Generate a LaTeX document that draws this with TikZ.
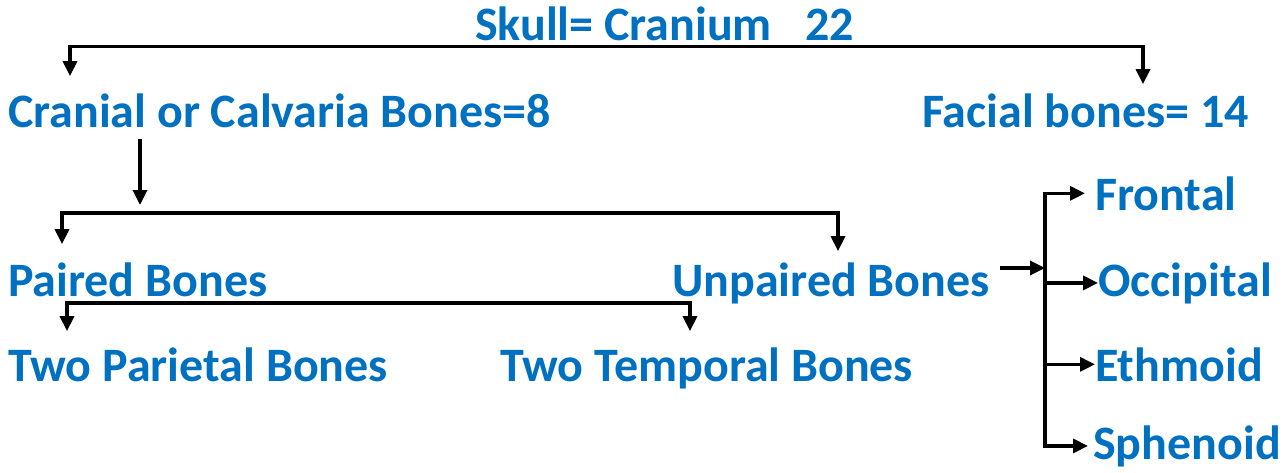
\documentclass[tikz,border=0pt]{standalone}
\usepackage{fontspec}
\setmainfont{Carlito}
\usetikzlibrary{arrows.meta, positioning, calc}
\definecolor{boneblue}{HTML}{0070C0}
\tikzset{tip/.tip={Triangle[length=15pt,width=14pt]}}
\tikzstyle{label} = [anchor=base west, inner sep=0pt, text=boneblue, font=\fontsize{48}{52}\selectfont\bfseries]
\tikzstyle{arrow} = [line width=3.3pt, -tip]
\tikzstyle{twoway} = [line width=3.3pt, tip-tip]

\begin{document}
\begin{tikzpicture}[x=1pt, y=-1pt]
        \useasboundingbox (0,0) rectangle (1286,472);

        % Top level
        \node (skull) [label] at (475,40) {Skull= Cranium\hspace{0.7em}22};
        \node (cranial) [label] at (8,127) {Cranial or Calvaria Bones=8};
        \node (facial) [label] at (922,127) {Facial bones= 14};

        % Cranial split
        \node (paired) [label] at (8,296) {Paired Bones};
        \node (unpaired) [label] at (672,296) {Unpaired Bones};
        \node (parietal) [label] at (8,381) {Two Parietal Bones};
        \node (temporal) [label] at (500,381) {Two Temporal Bones};

        % Unpaired bones (right)
        \node (frontal) [label] at (1095,210) {Frontal};
        \node (occipital) [label] at (1098,296) {Occipital};
        \node (ethmoid) [label] at (1095,381) {Ethmoid};
        \node (sphenoid) [label] at (1093,459) {Sphenoid};

        % Bars
        \coordinate (bar1) at ([yshift=-6pt]skull.south);
        \coordinate (bar2) at (450,213);
        \coordinate (bar3) at (380,303);
        \coordinate (fork) at (1045,268);

        % Arrows
        \draw [twoway] ([xshift=62pt, yshift=17pt]cranial.north west) |- (bar1) -| ([xshift=221pt, yshift=9pt]facial.north west);
        \draw [arrow, shorten >=8pt] ([xshift=132pt, yshift=-11pt]cranial.south west) -- ([xshift=132pt]cranial.south west |- bar2);
        \draw [twoway] ([xshift=54pt, yshift=18pt]paired.north west) |- (bar2) -| ([xshift=166pt, yshift=11pt]unpaired.north west);
        \draw [twoway] ([xshift=59pt, yshift=16pt]parietal.north west) |- (bar3) -| ([xshift=190pt, yshift=16pt]temporal.north west);

        \draw [arrow] ([xshift=10pt]unpaired.east |- fork) -- (fork);
        \draw [twoway] ([xshift=-10pt]frontal.west) -| (fork) |- ([xshift=-5pt]sphenoid.west);
        \draw [arrow] (fork |- occipital.west) -- (occipital.west);
        \draw [arrow] (fork |- ethmoid.west) -- (ethmoid.west);

    \end{tikzpicture}
\end{document}
